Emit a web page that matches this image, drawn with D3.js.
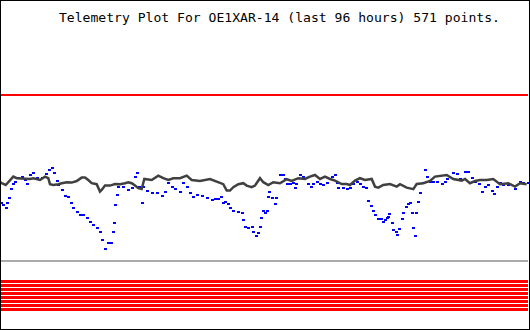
<!DOCTYPE html>
<html>
<head>
<meta charset="utf-8">
<script src="https://cdn.jsdelivr.net/npm/d3@7"></script>
<style>
  html, body { margin: 0; padding: 0; background: #fff; }
  svg { display: block; }
</style>
</head>
<body>
<div id="chart"></div>
<script>
// ---- data (time in hours since start of the 96-hour window, values in channel units) ----
const titleText = "Telemetry Plot For OE1XAR-14 (last 96 hours) 571 points.";
const hoursSpan = [0, 96];
const valueSpan = [0, 83];
const upperLimit = 83;   // red reference line
const lowerLimit = 0;    // gray reference line
const bandLevels = [-10.25, -12.25, -14.25, -16.25, -18.25, -20.25, -22.25, -24.25];

const grayHours = [0,0.31,1.04,2.42,3.04,5.45,6.05,7.27,8.18,8.78,9.09,9.69,10.6,11.22,12.13,13.04,13.95,14.85,15.45,16.05,16.67,17.58,18.18,18.49,19.09,20,20.91,21.82,22.73,23.33,23.95,24.55,25.15,25.76,26.24,27.58,28.78,29.69,30.6,31.51,32.73,33.95,34.85,36.36,38.18,39.4,40.6,41.22,41.82,42.42,43.33,44.24,44.85,45.76,46.36,47.27,47.87,48.78,49.69,50.91,52.13,53.04,54.24,55.45,56.36,57.27,58.18,59.09,60,60.91,62.13,63.04,63.64,64.55,65.45,66.36,67.58,68.18,68.78,69.69,70.91,72.13,72.73,73.95,75.15,75.76,76.96,78.18,79.09,81.22,82.42,83.95,84.55,85.45,86.36,87.27,88.49,89.69,90.91,92.42,93.64,94.55,95.76];
const grayValues = [39.4,38.9,38,42.2,41.4,41,41.4,40.5,42.2,41.4,38.4,38,38.4,38.9,39.4,39.2,40,41.7,41.7,40.5,38.9,38.4,34.7,35.5,37.7,37.7,38.5,38.4,38.9,39.4,38.9,37.7,36.4,36,41,40.5,42.7,41.4,40.5,41.4,41.4,42.7,40.5,40,41,39.7,38.4,35.2,35.2,36.9,38.4,38.9,37.7,36.9,37.7,41.4,39.4,38,39.4,38.9,40.9,40,41.4,41,42.2,43,41,42.2,41,40.2,38.5,38.5,38,40.2,41.4,40.5,41,37.2,36.7,38,38.5,37.2,38.4,36.7,35.9,38.5,38.9,40,42.2,43,41,40.2,41,38.9,40,40.5,40.5,41,38.4,38.9,37.2,38.9,38.4];

const blueHours = [0.18,0.6,1.09,1.33,1.64,1.95,2.31,2.73,3.33,3.95,4.55,4.85,5.45,6.05,6.67,7.58,8.36,8.96,9.4,9.82,10.31,10.6,11.22,11.82,12.42,12.85,13.33,13.95,14.55,15.15,15.76,16.36,16.96,17.58,18.18,18.49,19.09,19.69,20.13,20.49,20.73,20.91,21.22,21.51,22.42,23.33,23.95,24.55,24.96,25.33,25.76,26.05,26.67,27.58,28.49,29.4,30,30.6,31.22,31.82,32.73,33.33,33.95,34.55,35.15,35.76,36.67,37.58,38.49,39.09,39.69,40.13,40.49,40.91,41.51,41.82,42.42,43.33,43.95,44.24,44.55,45.15,45.76,46.05,46.55,46.96,47.27,47.45,47.76,48.18,48.6,48.78,48.96,49.4,50,50.18,50.91,51.4,51.82,52.13,52.73,53.33,53.64,53.76,54.55,55.15,56.05,56.55,56.96,57.58,58.18,58.78,59.4,60.31,60.91,61.22,61.51,62.42,63.04,63.64,64.24,64.85,65.45,66.05,66.55,66.96,67.4,67.76,68.18,68.78,69.22,69.58,70,70.31,70.6,70.78,71.22,71.51,71.95,72.24,72.6,73.04,73.33,73.76,74.24,74.55,74.85,75.15,75.45,75.64,76.05,76.36,76.85,77.27,77.58,78.18,78.78,79.4,80.31,80.91,81.33,82.31,83.04,83.64,84.55,85.15,85.76,86.36,87.15,87.58,88.18,88.78,89.4,89.82,90.31,90.91,91.51,92.42,93.64,94.55,95.15,96.05];
const blueValues = [28.9,28,26.4,28.9,31.4,36,38.4,39.7,41.4,42.2,40.5,38.4,43,43.9,41.4,41.4,43.5,45.5,46.7,43.9,40.2,38,35.5,32.7,32.2,29.2,26.7,24.7,23,23,21.4,19.7,18,16.7,14.7,10.5,6,9.2,9.2,14.7,19.2,28,33,37.2,37.2,35.5,36.7,42.2,43.9,37.2,28.9,37.2,35,33.9,33.9,32.5,34.7,38.9,37.2,35.9,34.5,38.9,37.2,33.9,32.2,33,32.5,31.7,30.5,31,30.9,32.2,28.9,29.4,28.4,26.4,25,24.4,24.2,20.5,16.9,16.4,17.2,14.7,12.5,14.2,17.2,21.7,25,24.2,25,32.2,34.7,31.4,28.4,31.7,43,43,40.9,38.4,38.4,38.9,36.7,38.4,43,42.2,38.5,37.2,38.4,39.4,38.4,38,38.9,42.2,43,38.9,36.7,36.4,35.9,36.4,38.4,39.7,38.4,37.2,36.4,30,27.5,25,23,21,21,19.7,20.5,21.7,22.2,23.4,19.2,15.5,14.7,13,16,21,23.9,27.2,28.4,28.9,23.9,16.4,12.5,23.9,29.7,33.9,38.9,45.5,42.2,39.4,39.7,39.4,38.4,39.4,40.9,43.9,43.5,41,44.4,44.7,41.4,39.7,38.4,34.7,36.9,38,35.2,33.4,37.2,38.9,38,38,35.9,39.7,38.9,38.9];

// ---- layout ----
const W = 530, H = 330;
const svg = d3.select("#chart").append("svg")
  .attr("width", W).attr("height", H)
  .attr("shape-rendering", "crispEdges");

svg.append("rect").attr("width", W).attr("height", H).attr("fill", "#fff");

const x = d3.scaleLinear().domain(hoursSpan).range([0, 528]);
const y = d3.scaleLinear().domain(valueSpan).range([261, 95]);

// title
svg.append("text")
  .attr("x", 59).attr("y", 22)
  .attr("font-family", "'DejaVu Sans Mono', 'Liberation Mono', monospace")
  .attr("font-size", 13)
  .attr("textLength", 441)
  .attr("lengthAdjust", "spacingAndGlyphs")
  .attr("fill", "#000")
  .text(titleText);

const plot = svg.append("g");

// upper red limit line
plot.append("line")
  .attr("x1", x(hoursSpan[0]) + 1).attr("x2", x(hoursSpan[1]))
  .attr("y1", y(upperLimit)).attr("y2", y(upperLimit))
  .attr("stroke", "#ff0000").attr("stroke-width", 2);

// lower gray limit line
plot.append("line")
  .attr("x1", x(hoursSpan[0]) + 1).attr("x2", x(hoursSpan[1]))
  .attr("y1", y(lowerLimit)).attr("y2", y(lowerLimit))
  .attr("stroke", "#aaaaaa").attr("stroke-width", 2);

// red bands
plot.selectAll("line.band").data(bandLevels).join("line")
  .attr("class", "band")
  .attr("x1", x(hoursSpan[0]) + 1).attr("x2", x(hoursSpan[1]))
  .attr("y1", d => y(d)).attr("y2", d => y(d))
  .attr("stroke", "#ff0000").attr("stroke-width", 3);

// blue series as small point marks
const blue = blueHours.map((h, i) => ({h, v: blueValues[i]}));
plot.selectAll("rect.blue").data(blue).join("rect")
  .attr("class", "blue")
  .attr("x", d => x(d.h) - 1).attr("y", d => y(d.v) - 1)
  .attr("width", 3).attr("height", 2)
  .attr("fill", "#0000ff");

// gray series (dense points -> continuous trace)
const gray = grayHours.map((h, i) => ({h, v: grayValues[i]}));
plot.append("path")
  .datum(gray)
  .attr("d", d3.line().x(d => x(d.h)).y(d => y(d.v)))
  .attr("fill", "none")
  .attr("stroke", "#404040")
  .attr("stroke-width", 2.5)
  .attr("shape-rendering", "auto");

// frame
svg.append("rect")
  .attr("x", 0.5).attr("y", 0.5).attr("width", W - 1).attr("height", H - 1)
  .attr("fill", "none").attr("stroke", "#000").attr("stroke-width", 1);
</script>
</body>
</html>
